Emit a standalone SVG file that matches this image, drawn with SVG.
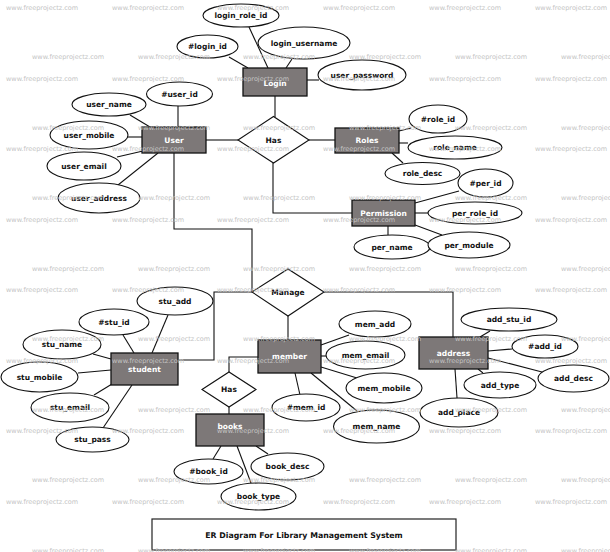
<svg xmlns="http://www.w3.org/2000/svg" xmlns:xlink="http://www.w3.org/1999/xlink" width="610" height="552" viewBox="0 0 610 552">
<style>
.ent{fill:#7d7878;stroke:#111;stroke-width:1.3}
.att{fill:#fff;stroke:#111;stroke-width:1.1}
.rel{fill:#fff;stroke:#111;stroke-width:1.1}
.t{font-family:"DejaVu Sans","Liberation Sans",sans-serif;font-weight:bold;font-size:7.5px;text-anchor:middle;fill:#111}
.w{fill:#fff}
.ln{fill:none;stroke:#111;stroke-width:1.1}
.wm{font-family:"DejaVu Sans","Liberation Sans",sans-serif;font-size:6.5px;fill:#c4c4c4}
.title{fill:#fff;stroke:#222;stroke-width:1.2}
</style>
<defs>
<g id="wmrow">
<text class="wm" x="6" y="0">www.freeprojectz.com</text>
<text class="wm" x="112" y="0">www.freeprojectz.com</text>
<text class="wm" x="217" y="0">www.freeprojectz.com</text>
<text class="wm" x="323" y="0">www.freeprojectz.com</text>
<text class="wm" x="429" y="0">www.freeprojectz.com</text>
<text class="wm" x="535" y="0">www.freeprojectz.com</text>
</g>
</defs>
<rect width="610" height="552" fill="#fff"/>

<g id="connectors">
<line class="ln" x1="249" y1="27" x2="268" y2="68"/>
<line class="ln" x1="229" y1="57" x2="248" y2="68"/>
<line class="ln" x1="292" y1="59" x2="286" y2="68"/>
<line class="ln" x1="307" y1="80" x2="319" y2="80"/>
<line class="ln" x1="275" y1="96" x2="275" y2="117"/>
<line class="ln" x1="178" y1="106" x2="178" y2="127"/>
<line class="ln" x1="130" y1="115" x2="150" y2="127"/>
<line class="ln" x1="128" y1="137" x2="142" y2="137"/>
<line class="ln" x1="117" y1="157" x2="143" y2="151"/>
<line class="ln" x1="118" y1="185" x2="158" y2="153"/>
<line class="ln" x1="206" y1="140" x2="238" y2="140"/>
<line class="ln" x1="309" y1="140" x2="335" y2="140"/>
<line class="ln" x1="399" y1="131" x2="411" y2="128"/>
<line class="ln" x1="399" y1="143" x2="408" y2="143"/>
<line class="ln" x1="392" y1="153" x2="403" y2="163"/>
<polyline class="ln" points="273,163 273,213 352,213"/>
<line class="ln" x1="415" y1="203" x2="459" y2="191"/>
<line class="ln" x1="415" y1="213" x2="428" y2="213"/>
<line class="ln" x1="388" y1="226" x2="388" y2="235"/>
<line class="ln" x1="415" y1="225" x2="442" y2="235"/>
<polyline class="ln" points="174,153 174,229 252,229 252,292"/>
<polyline class="ln" points="252,292 214,292 214,360 178,360"/>
<polyline class="ln" points="324,292 453,292 453,337"/>
<line class="ln" x1="288" y1="316" x2="288" y2="340"/>
<polyline class="ln" points="258,357 229,357 229,372"/>
<line class="ln" x1="229" y1="407" x2="229" y2="414"/>
<line class="ln" x1="152" y1="353" x2="168" y2="315"/>
<line class="ln" x1="134" y1="353" x2="123" y2="335"/>
<line class="ln" x1="93" y1="354" x2="111" y2="359"/>
<line class="ln" x1="78" y1="373" x2="111" y2="370"/>
<line class="ln" x1="94" y1="395" x2="112" y2="384"/>
<line class="ln" x1="103" y1="428" x2="132" y2="385"/>
<line class="ln" x1="321" y1="345" x2="349" y2="335"/>
<line class="ln" x1="321" y1="356" x2="326" y2="356"/>
<line class="ln" x1="321" y1="367" x2="357" y2="378"/>
<line class="ln" x1="295" y1="373" x2="300" y2="395"/>
<line class="ln" x1="311" y1="373" x2="357" y2="411"/>
<line class="ln" x1="480" y1="337" x2="490" y2="331"/>
<line class="ln" x1="488" y1="351" x2="512" y2="349"/>
<line class="ln" x1="488" y1="358" x2="542" y2="372"/>
<line class="ln" x1="478" y1="369" x2="483" y2="373"/>
<line class="ln" x1="455" y1="369" x2="457" y2="398"/>
<line class="ln" x1="221" y1="446" x2="213" y2="459"/>
<line class="ln" x1="237" y1="446" x2="251" y2="483"/>
<line class="ln" x1="256" y1="446" x2="268" y2="454"/>
</g>

<g id="login">
<rect class="ent" x="243" y="68" width="64" height="28"/>
<text class="t w" x="275" y="85.7">Login</text>
</g>
<g id="login_role_id"><ellipse class="att" cx="241" cy="15.5" rx="38" ry="11.5"/><text class="t" x="241" y="18.2">login_role_id</text></g>
<g id="login_id"><ellipse class="att" cx="207.5" cy="46.5" rx="30.5" ry="11.5"/><text class="t" x="207.5" y="49.2">#login_id</text></g>
<g id="login_username"><ellipse class="att" cx="304" cy="43" rx="46" ry="16"/><text class="t" x="304" y="45.7">login_username</text></g>
<g id="user_password"><ellipse class="att" cx="362" cy="75" rx="44" ry="15"/><text class="t" x="362" y="77.7">user_password</text></g>

<g id="user">
<rect class="ent" x="142" y="127" width="64" height="26"/>
<text class="t w" x="174" y="142.7">User</text>
</g>
<g id="user_id"><ellipse class="att" cx="179.5" cy="94" rx="33" ry="12"/><text class="t" x="179.5" y="96.7">#user_id</text></g>
<g id="user_name"><ellipse class="att" cx="109" cy="104.5" rx="37" ry="11.5"/><text class="t" x="109" y="107.2">user_name</text></g>
<g id="user_mobile"><ellipse class="att" cx="89" cy="135" rx="39" ry="14"/><text class="t" x="89" y="137.7">user_mobile</text></g>
<g id="user_email"><ellipse class="att" cx="84" cy="166" rx="37" ry="14"/><text class="t" x="84" y="168.7">user_email</text></g>
<g id="user_address"><ellipse class="att" cx="99" cy="198" rx="41" ry="15"/><text class="t" x="99" y="200.7">user_address</text></g>

<g id="has1">
<polygon class="rel" points="238,140 273.5,116.5 309,140 273.5,163"/>
<text class="t" x="273.5" y="142.7">Has</text>
</g>

<g id="roles">
<rect class="ent" x="335" y="128" width="64" height="25"/>
<text class="t w" x="367" y="143.2">Roles</text>
</g>
<g id="role_id"><ellipse class="att" cx="438" cy="119" rx="29" ry="14"/><text class="t" x="438" y="121.7">#role_id</text></g>
<g id="role_name"><ellipse class="att" cx="455" cy="147.5" rx="47" ry="11.5"/><text class="t" x="455" y="150.2">role_name</text></g>
<g id="role_desc"><ellipse class="att" cx="422.5" cy="173.5" rx="37.5" ry="11"/><text class="t" x="422.5" y="176.2">role_desc</text></g>

<g id="permission">
<rect class="ent" x="352" y="200" width="63" height="26"/>
<text class="t w" x="383.5" y="215.7">Permission</text>
</g>
<g id="per_id"><ellipse class="att" cx="485.5" cy="183" rx="27.5" ry="14"/><text class="t" x="485.5" y="185.7">#per_id</text></g>
<g id="per_role_id"><ellipse class="att" cx="475" cy="213" rx="47" ry="11"/><text class="t" x="475" y="215.7">per_role_id</text></g>
<g id="per_name"><ellipse class="att" cx="392" cy="247" rx="38" ry="12"/><text class="t" x="392" y="249.7">per_name</text></g>
<g id="per_module"><ellipse class="att" cx="469" cy="245" rx="41" ry="13"/><text class="t" x="469" y="247.7">per_module</text></g>

<g id="manage">
<polygon class="rel" points="252,292 288,269 324,292 288,316"/>
<text class="t" x="288" y="294.7">Manage</text>
</g>

<g id="student">
<rect class="ent" x="111" y="353" width="67" height="32"/>
<text class="t w" x="144.5" y="371.7">student</text>
</g>
<g id="stu_add"><ellipse class="att" cx="175" cy="301" rx="38" ry="14"/><text class="t" x="175" y="303.7">stu_add</text></g>
<g id="stu_id"><ellipse class="att" cx="114" cy="322" rx="35" ry="13"/><text class="t" x="114" y="324.7">#stu_id</text></g>
<g id="stu_name"><ellipse class="att" cx="62" cy="344.5" rx="39" ry="14.5"/><text class="t" x="62" y="347.2">stu_name</text></g>
<g id="stu_mobile"><ellipse class="att" cx="39.5" cy="377" rx="38.5" ry="15"/><text class="t" x="39.5" y="379.7">stu_mobile</text></g>
<g id="stu_email"><ellipse class="att" cx="70" cy="407.5" rx="39" ry="14.5"/><text class="t" x="70" y="410.2">stu_email</text></g>
<g id="stu_pass"><ellipse class="att" cx="92.5" cy="439.5" rx="36.5" ry="12.5"/><text class="t" x="92.5" y="442.2">stu_pass</text></g>

<g id="member">
<rect class="ent" x="258" y="340" width="63" height="33"/>
<text class="t w" x="289.5" y="359.2">member</text>
</g>
<g id="mem_add"><ellipse class="att" cx="375" cy="324" rx="36" ry="13"/><text class="t" x="375" y="326.7">mem_add</text></g>
<g id="mem_email"><ellipse class="att" cx="365.5" cy="355" rx="39.5" ry="14"/><text class="t" x="365.5" y="357.7">mem_email</text></g>
<g id="mem_mobile"><ellipse class="att" cx="384" cy="388" rx="38" ry="15"/><text class="t" x="384" y="390.7">mem_mobile</text></g>
<g id="mem_id"><ellipse class="att" cx="306" cy="407.5" rx="34" ry="13.5"/><text class="t" x="306" y="410.2">#mem_id</text></g>
<g id="mem_name"><ellipse class="att" cx="376.5" cy="426.5" rx="43" ry="16.5"/><text class="t" x="376.5" y="429.2">mem_name</text></g>

<g id="address">
<rect class="ent" x="419" y="337" width="69" height="32"/>
<text class="t w" x="453.5" y="355.7">address</text>
</g>
<g id="add_stu_id"><ellipse class="att" cx="509" cy="319.5" rx="48" ry="11.5"/><text class="t" x="509" y="322.2">add_stu_id</text></g>
<g id="add_id"><ellipse class="att" cx="545" cy="346.5" rx="33" ry="11.5"/><text class="t" x="545" y="349.2">#add_id</text></g>
<g id="add_desc"><ellipse class="att" cx="573.5" cy="378.5" rx="35.5" ry="13.5"/><text class="t" x="573.5" y="381.2">add_desc</text></g>
<g id="add_type"><ellipse class="att" cx="500" cy="385" rx="36" ry="13"/><text class="t" x="500" y="387.7">add_type</text></g>
<g id="add_place"><ellipse class="att" cx="459" cy="412.5" rx="39" ry="14.5"/><text class="t" x="459" y="415.2">add_place</text></g>

<g id="has2">
<polygon class="rel" points="202,389.5 229,372 256,389.5 229,407"/>
<text class="t" x="229" y="392.2">Has</text>
</g>

<g id="books">
<rect class="ent" x="196" y="414" width="68" height="32"/>
<text class="t w" x="230" y="428.7">books</text>
</g>
<g id="book_id"><ellipse class="att" cx="208.5" cy="471.5" rx="34.5" ry="12.5"/><text class="t" x="208.5" y="474.2">#book_id</text></g>
<g id="book_desc"><ellipse class="att" cx="287.5" cy="466.5" rx="36.5" ry="13.5"/><text class="t" x="287.5" y="469.2">book_desc</text></g>
<g id="book_type"><ellipse class="att" cx="258.5" cy="496.5" rx="37.5" ry="13.5"/><text class="t" x="258.5" y="499.2">book_type</text></g>

<g id="title">
<rect class="title" x="152" y="519" width="304" height="31"/>
<text class="t" x="304" y="537.8" style="font-size:7.8px">ER Diagram For Library Management System</text>
</g>

<g id="watermark">
<use xlink:href="#wmrow" href="#wmrow" x="0" y="10.3"/>
<use xlink:href="#wmrow" href="#wmrow" x="0" y="80.8"/>
<use xlink:href="#wmrow" href="#wmrow" x="0" y="151.3"/>
<use xlink:href="#wmrow" href="#wmrow" x="0" y="221.8"/>
<use xlink:href="#wmrow" href="#wmrow" x="0" y="292.3"/>
<use xlink:href="#wmrow" href="#wmrow" x="0" y="362.8"/>
<use xlink:href="#wmrow" href="#wmrow" x="0" y="433.3"/>
<use xlink:href="#wmrow" href="#wmrow" x="0" y="503.8"/>
<use xlink:href="#wmrow" href="#wmrow" x="26" y="59.3"/>
<use xlink:href="#wmrow" href="#wmrow" x="26" y="129.8"/>
<use xlink:href="#wmrow" href="#wmrow" x="26" y="200.3"/>
<use xlink:href="#wmrow" href="#wmrow" x="26" y="270.8"/>
<use xlink:href="#wmrow" href="#wmrow" x="26" y="341.3"/>
<use xlink:href="#wmrow" href="#wmrow" x="26" y="411.8"/>
<use xlink:href="#wmrow" href="#wmrow" x="26" y="482.3"/>
<use xlink:href="#wmrow" href="#wmrow" x="26" y="552.5"/>
</g>
</svg>
